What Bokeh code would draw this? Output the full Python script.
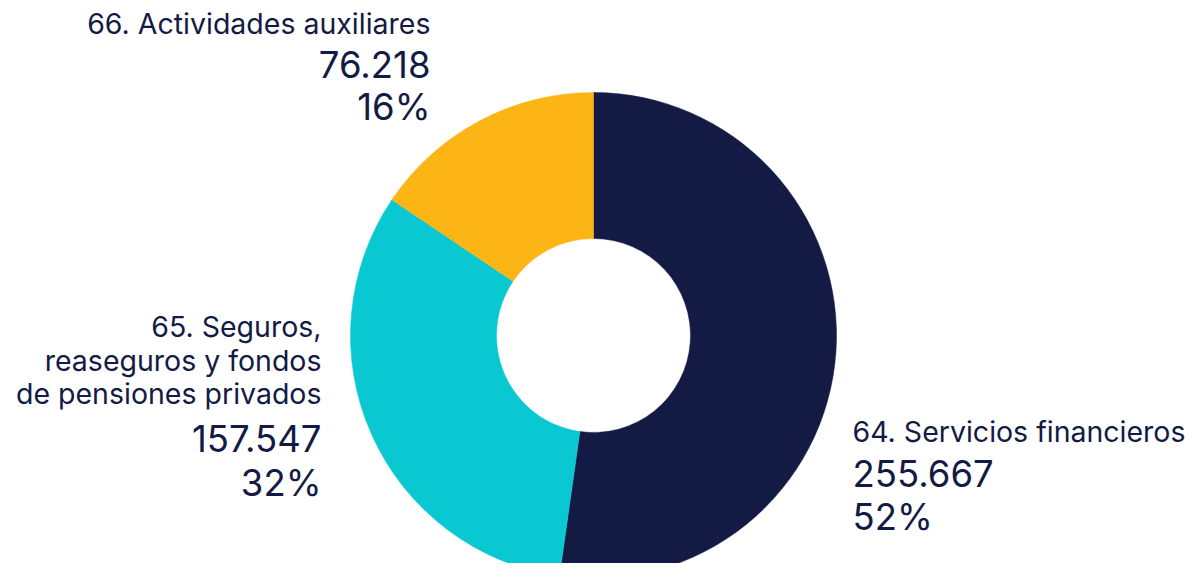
import math
from bokeh.plotting import figure
from bokeh.models import Range1d
from bokeh.core.properties import value
from bokeh.embed import file_html
from bokeh.resources import INLINE

# ---- data ----
categories = ["64. Servicios financieros",
              "65. Seguros, reaseguros y fondos de pensiones privados",
              "66. Actividades auxiliares"]
category_lines = [["64. Servicios financieros"],
                  ["65. Seguros,", "reaseguros y fondos", "de pensiones privados"],
                  ["66. Actividades auxiliares"]]
values = [255667, 157547, 76218]
value_labels = ["255.667", "157.547", "76.218"]
colors = ["#131B45", "#0AC8D2", "#FDB515"]

# ---- layout ----
W, H = 1188, 563
FONT = "Inter"
TEXT_COLOR = "#131B45"

p = figure(width=W, height=H, x_range=Range1d(0, W), y_range=Range1d(0, H),
           output_backend="svg", toolbar_location=None, min_border=0)
p.axis.visible = False
p.grid.visible = False
p.outline_line_color = None
p.background_fill_color = "white"
p.border_fill_color = "white"

cx, cy = 593, 228
r_out, r_in = 243, 97

total = sum(values)
cum = 0
starts, ends = [], []
for v in values:
    starts.append(math.pi / 2 - 2 * math.pi * cum / total)
    cum += v
    ends.append(math.pi / 2 - 2 * math.pi * cum / total)

p.annular_wedge(x=[cx] * len(values), y=[cy] * len(values),
                inner_radius=r_in, outer_radius=r_out,
                start_angle=starts, end_angle=ends, direction="clock",
                fill_color=colors, line_color=colors, line_width=0.5)

pcts = [f"{round(100 * v / total)}%" for v in values]

# label anchors: (x, align, baselines of name lines, value baseline, pct baseline)
anchors = [
    (852, "left", [123], 77, 34),
    (321, "right", [228, 194, 161], 112, 68),
    (430, "right", [531], 486, 444),
]
NAME_DY, NUM_DY = 9, 13

for i, (ax, align, name_ys, vy, py) in enumerate(anchors):
    p.text(x=[ax] * len(name_ys), y=[y + NAME_DY for y in name_ys], text=category_lines[i],
           text_font=value(FONT), text_font_size="28.5px", text_color=TEXT_COLOR,
           text_align=align, text_baseline="alphabetic")
    p.text(x=[ax, ax], y=[vy + NUM_DY, py + NUM_DY], text=[value_labels[i], pcts[i]],
           text_font=value(FONT), text_font_size="36.5px", text_color=TEXT_COLOR,
           text_align=align, text_baseline="alphabetic")

open("out.html", "w").write(file_html(p, INLINE))
